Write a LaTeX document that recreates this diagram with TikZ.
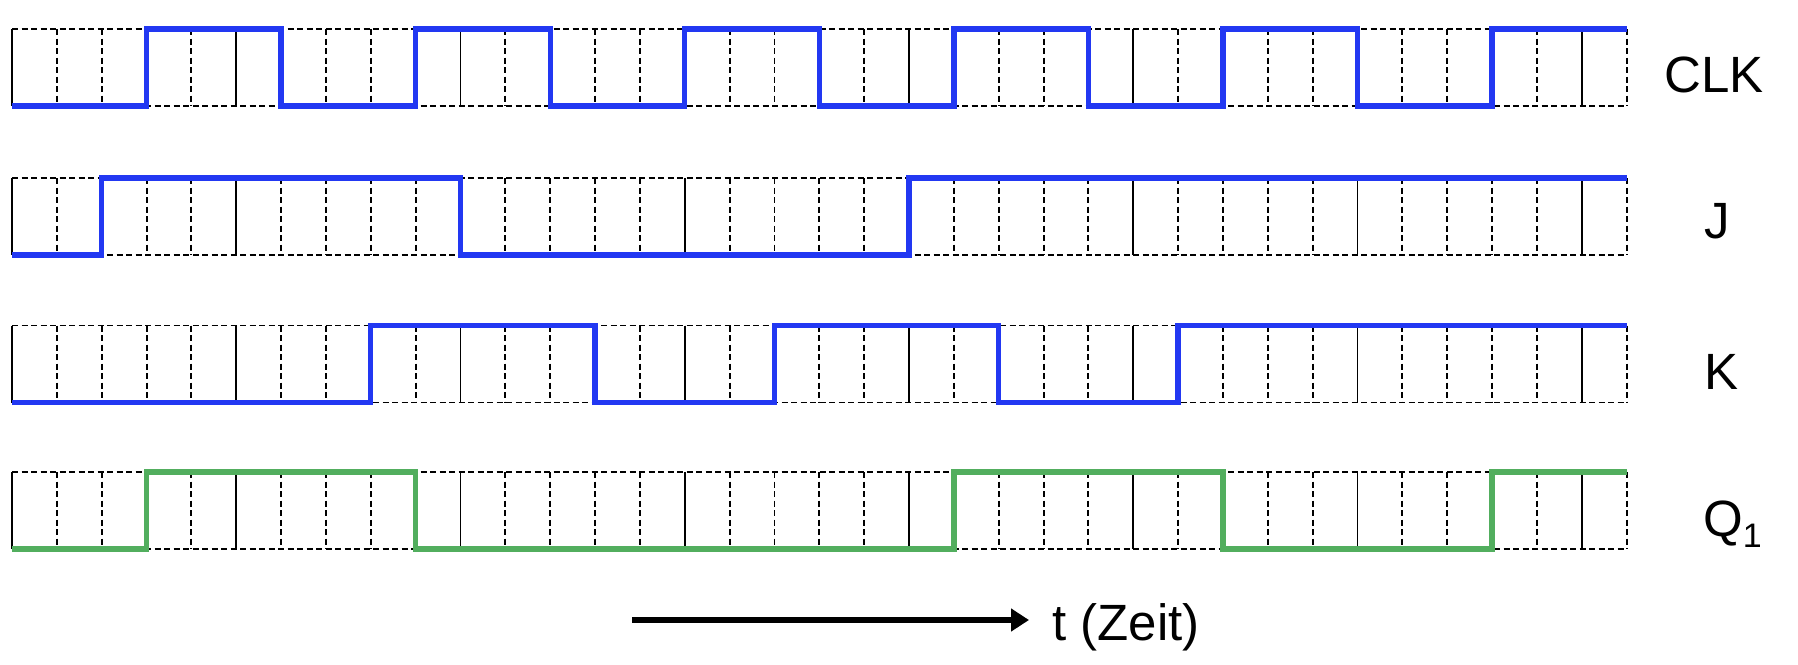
\documentclass[tikz,border=0pt]{standalone}
\usepackage{fontspec}
\setmainfont{Liberation Sans}
\usetikzlibrary{arrows.meta}
\definecolor{sigblue}{HTML}{2238F2}
\definecolor{siggreen}{HTML}{52AE5E}
\tikzset{
  gridline/.style={line width=1.9pt, black},
  griddash/.style={gridline, dash pattern=on 6pt off 3.5pt},
  signal/.style={line width=5.3pt, line join=miter},
  lbl/.style={font=\fontsize{51}{60}\selectfont, anchor=base, inner sep=0pt},
  timearrow/.style={line width=6pt, -{Triangle[length=18pt,width=22pt]}},
}
\begin{document}
\begin{tikzpicture}[x=1pt,y=-1pt]
\useasboundingbox (0,0) rectangle (1798,664);
% grids
\foreach \top in {29,178,325.5,472} {
  \begin{scope}[shift={(12,\top)}, x=44.85pt, y=-77pt]
    \foreach \i in {1,...,36} \draw[griddash] (\i,0) -- (\i,1);
    \foreach \i in {0,5,...,35} \draw[gridline] (\i,0) -- (\i,1);
    \draw[griddash] (0,0) -- (36,0);
    \draw[griddash] (0,1) -- (36,1);
  \end{scope}
}
% CLK
\begin{scope}[shift={(12,29)}, x=44.85pt, y=-77pt]
  \draw[signal, sigblue] (0,1) -| (3,0) -| (6,1) -| (9,0) -| (12,1) -| (15,0) -| (18,1) -| (21,0) -| (24,1) -| (27,0) -| (30,1) -| (33,0) -- (36,0);
\end{scope}
% J
\begin{scope}[shift={(12,178)}, x=44.85pt, y=-77pt]
  \draw[signal, sigblue] (0,1) -| (2,0) -| (10,1) -| (20,0) -- (36,0);
\end{scope}
% K
\begin{scope}[shift={(12,325.5)}, x=44.85pt, y=-77pt]
  \draw[signal, sigblue] (0,1) -| (8,0) -| (13,1) -| (17,0) -| (22,1) -| (26,0) -- (36,0);
\end{scope}
% Q1
\begin{scope}[shift={(12,472)}, x=44.85pt, y=-77pt]
  \draw[signal, siggreen] (0,1) -| (3,0) -| (9,1) -| (21,0) -| (27,1) -| (33,0) -- (36,0);
\end{scope}
% labels
\node[lbl] (clklabel) at (1714,92) {CLK};
\node[lbl] (jlabel) at (1717,238) {J};
\node[lbl] (klabel) at (1721,389) {K};
\node[lbl, anchor=base west] (qlabel) at (1703,536) {Q\raisebox{-11pt}{\fontsize{34}{34}\selectfont 1}};
% time arrow
\coordinate (tstart) at (632,620);
\coordinate (tend) at (1029,620);
\draw[timearrow] (tstart) -- (tend);
\node[lbl, anchor=base west] (tlabel) at (1052,640) {t (Zeit)};
\end{tikzpicture}
\end{document}
